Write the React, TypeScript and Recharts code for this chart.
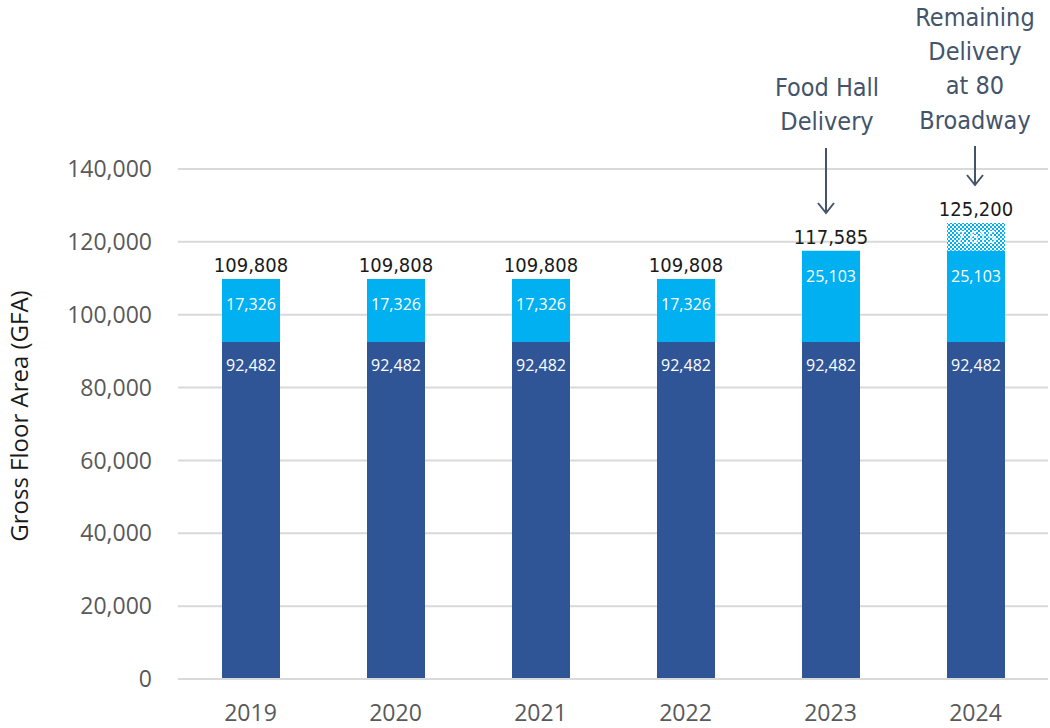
// @ts-nocheck
import { ComposedChart, Bar, XAxis, YAxis, CartesianGrid, LabelList } from 'recharts';

const years = ['2019', '2020', '2021', '2022', '2023', '2024'];
const baseArea = [92482, 92482, 92482, 92482, 92482, 92482];
const addedArea = [17326, 17326, 17326, 17326, 25103, 25103];
const remainingArea = [0, 0, 0, 0, 0, 7615];
const yTicks = [0, 20000, 40000, 60000, 80000, 100000, 120000, 140000];

const data = years.map((y, i) => {
  const total = baseArea[i] + addedArea[i] + remainingArea[i];
  return {
    year: y,
    base: baseArea[i],
    added: addedArea[i],
    remaining: remainingArea[i],
    // total label goes on the top segment of each stack
    totalOnAdded: remainingArea[i] ? null : total,
    totalOnRemaining: remainingArea[i] ? total : null,
  };
});

const fmt = (v: number) => v.toLocaleString('en-US');
const TICK_FONT = 'Open Sans, sans-serif';
const ANN = '#44546a';

function InsideLabel(props: any) {
  const { x, y, width, value, offsetY } = props;
  if (!value) return null;
  return (
    <text x={x + width / 2} y={y + offsetY} textAnchor="middle" fill="#fff" fontSize={16} fontFamily={TICK_FONT}>
      {fmt(value)}
    </text>
  );
}

function MidLabel(props: any) {
  const { x, y, width, height, value } = props;
  if (!value) return null;
  return (
    <text x={x + width / 2} y={y + height / 2 + 6} textAnchor="middle" fill="#fff" fontSize={16} fontFamily={TICK_FONT}>
      {fmt(value)}
    </text>
  );
}

function TotalLabel(props: any) {
  const { x, y, width, value } = props;
  if (value == null || value === '') return null;
  return (
    <text x={x + width / 2} y={y - 7} textAnchor="middle" fill="#1a1a1a" fontSize={20} fontFamily="DejaVu Sans Condensed, sans-serif">
      {fmt(Number(value))}
    </text>
  );
}

export default function App() {
  return (
    <div style={{ position: 'absolute', left: 0, top: 0, width: 1050, height: 728, background: '#fff' }}>
      <ComposedChart width={1050} height={728} data={data} margin={{ top: 169, right: 2, left: 0, bottom: 0 }} barCategoryGap="20%">
        <defs>
          <pattern id="checker" width="4" height="4" patternUnits="userSpaceOnUse">
            <rect width="4" height="4" fill="#fff" />
            <rect width="2" height="2" fill="#00b0f0" />
            <rect x="2" y="2" width="2" height="2" fill="#00b0f0" />
          </pattern>
        </defs>
        <CartesianGrid vertical={false} stroke="#d9d9d9" strokeWidth={2} />
        <XAxis
          dataKey="year"
          height={49}
          tickLine={false}
          axisLine={{ stroke: '#d9d9d9', strokeWidth: 2 }}
          tick={{ fill: '#595959', fontSize: 23, fontFamily: TICK_FONT }}
          tickMargin={20}
        />
        <YAxis
          width={178}
          domain={[0, 140000]}
          ticks={yTicks}
          tickFormatter={fmt}
          tickLine={false}
          axisLine={false}
          tick={{ fill: '#595959', fontSize: 23, fontFamily: TICK_FONT }}
          tickMargin={20}
          label={{
            value: 'Gross Floor Area (GFA)',
            content: () => (
              <text x={0} y={0} transform="translate(28,416) rotate(-90)" textAnchor="middle" fill="#1a1a1a" fontSize={24} fontFamily={TICK_FONT}>
                Gross Floor Area (GFA)
              </text>
            ),
          }}
        />
        <Bar dataKey="base" stackId="a" fill="#2f5597" barSize={58} isAnimationActive={false}>
          <LabelList dataKey="base" content={(p: any) => <InsideLabel {...p} offsetY={29} />} />
        </Bar>
        <Bar dataKey="added" stackId="a" fill="#00b0f0" barSize={58} isAnimationActive={false}>
          <LabelList dataKey="added" content={(p: any) => <InsideLabel {...p} offsetY={31} />} />
          <LabelList dataKey="totalOnAdded" content={TotalLabel} />
        </Bar>
        <Bar dataKey="remaining" stackId="a" fill="url(#checker)" barSize={58} isAnimationActive={false}>
          <LabelList dataKey="remaining" content={MidLabel} />
          <LabelList dataKey="totalOnRemaining" content={TotalLabel} />
        </Bar>
      </ComposedChart>
      <svg width={1050} height={728} style={{ position: 'absolute', left: 0, top: 0, pointerEvents: 'none' }}>
        <g fill={ANN} fontSize={25} fontFamily="DejaVu Sans Condensed, sans-serif" textAnchor="middle">
          <text x={827} y={96}>Food Hall</text>
          <text x={827} y={130}>Delivery</text>
          <text x={975} y={26}>Remaining</text>
          <text x={975} y={60}>Delivery</text>
          <text x={975} y={94}>at 80</text>
          <text x={975} y={129}>Broadway</text>
        </g>
        <line x1={826} y1={148} x2={826} y2={213} stroke={ANN} strokeWidth={2} />
        <path d="M818 203 L826 213 L834 203" fill="none" stroke={ANN} strokeWidth={2} />
        <line x1={975} y1={146} x2={975} y2={185} stroke={ANN} strokeWidth={2} />
        <path d="M967 175 L975 185 L983 175" fill="none" stroke={ANN} strokeWidth={2} />
      </svg>
    </div>
  );
}
